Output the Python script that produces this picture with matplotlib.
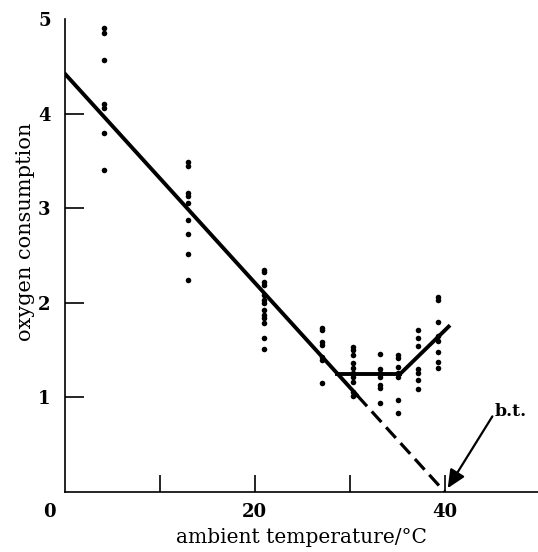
import matplotlib.pyplot as plt

# measured groups (ambient temperature / oxygen consumption)
temps = [4.2, 13.0, 21.0, 27.1, 30.3, 33.2, 35.1, 37.2, 39.3]
o2_groups = [
    [4.91, 4.86, 4.57, 4.11, 4.06, 3.80, 3.41],
    [3.49, 3.45, 3.16, 3.13, 3.06, 2.88, 2.73, 2.52, 2.24],
    [2.35, 2.33, 2.22, 2.19, 2.08, 2.03, 2.00, 1.93, 1.87, 1.84, 1.79, 1.63, 1.51],
    [1.74, 1.71, 1.59, 1.56, 1.43, 1.40, 1.15],
    [1.53, 1.50, 1.45, 1.37, 1.31, 1.26, 1.22, 1.16, 1.06, 1.02],
    [1.46, 1.30, 1.26, 1.22, 1.13, 1.10, 0.94],
    [1.45, 1.42, 1.32, 1.26, 1.22, 0.97, 0.84],
    [1.71, 1.63, 1.54, 1.30, 1.26, 1.19, 1.09],
    [2.06, 2.03, 1.80, 1.65, 1.60, 1.48, 1.38, 1.31],
]

# fitted lines
fit_x = [0, 30.8]
fit_y = [4.43, 1.02]
extrap_x = [30.8, 40.0]
extrap_y = [1.02, 0.0]
plateau_x = [28.7, 35.3]
plateau_y = [1.25, 1.25]
rise_x = [35.3, 40.4]
rise_y = [1.25, 1.75]

serif = 'DejaVu Serif'

def main():
    fig = plt.figure(figsize=(5.38, 5.52), dpi=100)
    ax = fig.add_axes([0.12, 0.1087, 0.88, 0.856])

    for t, ys in zip(temps, o2_groups):
        ax.scatter([t] * len(ys), ys, s=16, color='black', zorder=3, linewidths=0)

    ax.plot(fit_x, fit_y, color='black', lw=2.8, solid_capstyle='round')
    ax.plot(extrap_x, extrap_y, color='black', lw=2.3, dashes=(4.5, 2.2))
    ax.plot(plateau_x, plateau_y, color='black', lw=2.8)
    ax.plot(rise_x, rise_y, color='black', lw=2.8)

    # b.t. arrow
    ax.annotate('', xy=(40.3, 0.04), xytext=(45.0, 0.80),
                arrowprops=dict(arrowstyle='-|>,head_length=1.1,head_width=0.5',
                                color='black', lw=1.6, shrinkA=0, shrinkB=0))
    ax.text(45.2, 0.85, 'b.t.', fontsize=12.5, fontweight='bold', family=serif,
            va='center', ha='left')

    ax.set_xlim(0, 49.8)
    ax.set_ylim(0, 5)
    ax.spines['top'].set_visible(False)
    ax.spines['right'].set_visible(False)
    ax.spines['left'].set_linewidth(1.2)
    ax.spines['bottom'].set_linewidth(1.2)

    ax.set_xticks([10, 20, 30, 40])
    ax.set_xticklabels(['', '20', '', '40'])
    ax.set_yticks([1, 2, 3, 4, 5])
    ax.tick_params(axis='x', direction='in', length=12, width=1.2, pad=8)
    ax.tick_params(axis='y', direction='in', length=14, width=1.2, pad=10)
    ax.yaxis.get_major_ticks()[-1].tick1line.set_visible(False)
    for lab in ax.get_xticklabels() + ax.get_yticklabels():
        lab.set_fontfamily(serif)
        lab.set_fontweight('bold')
        lab.set_fontsize(13)
    ax.annotate('0', xy=(0, 0), xytext=(-6, -8), textcoords='offset points',
                ha='right', va='top', fontsize=13, fontweight='bold', family=serif)

    ax.set_xlabel('ambient temperature/°C', family=serif, fontsize=14.5, labelpad=5)
    ax.set_ylabel('oxygen consumption', family=serif, fontsize=15)
    ax.yaxis.set_label_coords(-0.063, 0.55)

    fig.savefig('out.png', dpi=100)

if __name__ == '__main__':
    main()
